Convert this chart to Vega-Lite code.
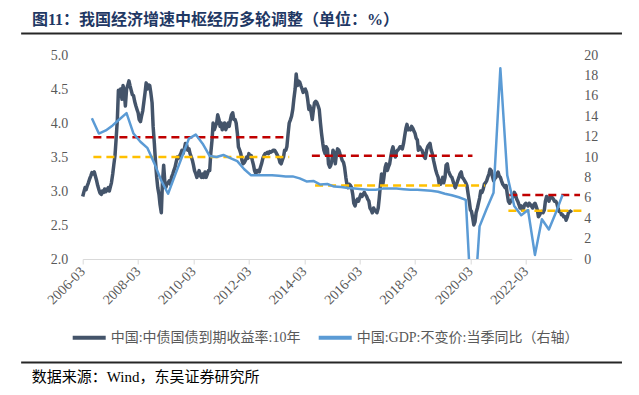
{
"$schema": "https://vega.github.io/schema/vega-lite/v6.json",
"width": 489, "height": 204,
"autosize": {"type": "none"},
"padding": {"left": 82.7, "top": 55, "right": 67.3, "bottom": 136},
"background": "white",
"title": {"text": "图11：我国经济增速中枢经历多轮调整（单位：%）", "anchor": "start", "frame": "group", "dx": -50.7, "dy": 17, "offset": 13.5, "baseline": "middle", "font": "Liberation Serif, Noto Sans CJK SC", "fontSize": 16, "fontWeight": "bold", "color": "#1F3864"},
"config": {"view": {"stroke": null}, "font": "Liberation Serif, Noto Sans CJK SC",
  "legend": {"orient": "none", "legendX": -12, "legendY": 264, "direction": "horizontal", "symbolType": "stroke", "symbolStrokeWidth": 4, "symbolSize": 1089, "labelFont": "Liberation Serif, Noto Sans CJK SC", "labelFontSize": 14, "labelColor": "#595959", "labelLimit": 0, "columnPadding": 10, "labelOffset": 3}},
"datasets": {
"bond": [
{"d":"2006-03-01","v":2.92},{"d":"2006-03-15","v":2.98},{"d":"2006-04-01","v":3.05},{"d":"2006-04-15","v":3.02},{"d":"2006-05-01","v":3.08},{"d":"2006-05-15","v":3.12},{"d":"2006-06-01","v":3.18},{"d":"2006-06-15","v":3.22},{"d":"2006-07-01","v":3.27},{"d":"2006-07-15","v":3.25},{"d":"2006-08-01","v":3.28},{"d":"2006-08-15","v":3.22},{"d":"2006-09-01","v":3.15},{"d":"2006-09-15","v":3.08},{"d":"2006-10-01","v":3.02},{"d":"2006-10-15","v":2.97},{"d":"2006-11-01","v":2.95},{"d":"2006-11-15","v":3.0},{"d":"2006-12-01","v":2.98},{"d":"2006-12-15","v":3.03},
{"d":"2007-01-01","v":2.99},{"d":"2007-01-15","v":3.02},{"d":"2007-02-01","v":3.05},{"d":"2007-02-15","v":3.0},{"d":"2007-03-01","v":3.06},{"d":"2007-03-15","v":3.12},{"d":"2007-04-01","v":3.25},{"d":"2007-04-15","v":3.38},{"d":"2007-05-01","v":3.52},{"d":"2007-05-15","v":3.75},{"d":"2007-06-01","v":4.05},{"d":"2007-06-15","v":4.48},{"d":"2007-07-01","v":4.42},{"d":"2007-07-15","v":4.5},{"d":"2007-08-01","v":4.35},{"d":"2007-08-15","v":4.55},{"d":"2007-09-01","v":4.45},{"d":"2007-09-15","v":4.25},{"d":"2007-10-01","v":4.5},{"d":"2007-10-15","v":4.55},{"d":"2007-11-01","v":4.62},{"d":"2007-11-15","v":4.55},{"d":"2007-12-01","v":4.48},{"d":"2007-12-15","v":4.42},
{"d":"2008-01-01","v":4.4},{"d":"2008-01-15","v":4.32},{"d":"2008-02-01","v":4.25},{"d":"2008-02-15","v":4.2},{"d":"2008-03-01","v":4.15},{"d":"2008-03-15","v":4.05},{"d":"2008-04-01","v":4.02},{"d":"2008-04-15","v":4.1},{"d":"2008-05-01","v":4.18},{"d":"2008-05-15","v":4.3},{"d":"2008-06-01","v":4.45},{"d":"2008-06-15","v":4.59},{"d":"2008-07-01","v":4.5},{"d":"2008-07-15","v":4.56},{"d":"2008-08-01","v":4.55},{"d":"2008-08-15","v":4.45},{"d":"2008-09-01","v":4.3},{"d":"2008-09-15","v":3.95},{"d":"2008-10-01","v":3.7},{"d":"2008-10-15","v":3.45},{"d":"2008-11-01","v":3.2},{"d":"2008-11-15","v":3.05},{"d":"2008-12-01","v":2.95},{"d":"2008-12-15","v":2.8},
{"d":"2009-01-01","v":2.68},{"d":"2009-01-15","v":3.1},{"d":"2009-02-01","v":3.38},{"d":"2009-02-15","v":3.15},{"d":"2009-03-01","v":3.05},{"d":"2009-03-15","v":3.1},{"d":"2009-04-01","v":3.12},{"d":"2009-04-15","v":3.15},{"d":"2009-05-01","v":3.1},{"d":"2009-05-15","v":3.2},{"d":"2009-06-01","v":3.25},{"d":"2009-06-15","v":3.3},{"d":"2009-07-01","v":3.35},{"d":"2009-07-15","v":3.42},{"d":"2009-08-01","v":3.5},{"d":"2009-08-15","v":3.48},{"d":"2009-09-01","v":3.52},{"d":"2009-09-15","v":3.55},{"d":"2009-10-01","v":3.6},{"d":"2009-10-15","v":3.55},{"d":"2009-11-01","v":3.62},{"d":"2009-11-15","v":3.7},{"d":"2009-12-01","v":3.68},{"d":"2009-12-15","v":3.6},
{"d":"2010-01-01","v":3.62},{"d":"2010-01-15","v":3.55},{"d":"2010-02-01","v":3.5},{"d":"2010-02-15","v":3.45},{"d":"2010-03-01","v":3.38},{"d":"2010-03-15","v":3.3},{"d":"2010-04-01","v":3.25},{"d":"2010-04-15","v":3.2},{"d":"2010-05-01","v":3.25},{"d":"2010-05-15","v":3.3},{"d":"2010-06-01","v":3.22},{"d":"2010-06-15","v":3.2},{"d":"2010-07-01","v":3.25},{"d":"2010-07-15","v":3.2},{"d":"2010-08-01","v":3.28},{"d":"2010-08-15","v":3.2},{"d":"2010-09-01","v":3.25},{"d":"2010-09-15","v":3.3},{"d":"2010-10-01","v":3.3},{"d":"2010-10-15","v":3.55},{"d":"2010-11-01","v":3.75},{"d":"2010-11-15","v":4.0},{"d":"2010-12-01","v":3.9},{"d":"2010-12-15","v":3.95},
{"d":"2011-01-01","v":4.0},{"d":"2011-01-15","v":4.12},{"d":"2011-02-01","v":4.05},{"d":"2011-02-15","v":3.95},{"d":"2011-03-01","v":4.0},{"d":"2011-03-15","v":3.9},{"d":"2011-04-01","v":3.95},{"d":"2011-04-15","v":4.0},{"d":"2011-05-01","v":3.9},{"d":"2011-05-15","v":3.95},{"d":"2011-06-01","v":4.0},{"d":"2011-06-15","v":3.95},{"d":"2011-07-01","v":4.05},{"d":"2011-07-15","v":4.12},{"d":"2011-08-01","v":4.15},{"d":"2011-08-15","v":4.05},{"d":"2011-09-01","v":4.05},{"d":"2011-09-15","v":4.0},{"d":"2011-10-01","v":3.85},{"d":"2011-10-15","v":3.65},{"d":"2011-11-01","v":3.6},{"d":"2011-11-15","v":3.55},{"d":"2011-12-01","v":3.45},{"d":"2011-12-15","v":3.4},
{"d":"2012-01-01","v":3.42},{"d":"2012-01-15","v":3.45},{"d":"2012-02-01","v":3.5},{"d":"2012-02-15","v":3.48},{"d":"2012-03-01","v":3.55},{"d":"2012-03-15","v":3.5},{"d":"2012-04-01","v":3.52},{"d":"2012-04-15","v":3.45},{"d":"2012-05-01","v":3.38},{"d":"2012-05-15","v":3.3},{"d":"2012-06-01","v":3.25},{"d":"2012-06-15","v":3.3},{"d":"2012-07-01","v":3.3},{"d":"2012-07-15","v":3.28},{"d":"2012-08-01","v":3.35},{"d":"2012-08-15","v":3.4},{"d":"2012-09-01","v":3.48},{"d":"2012-09-15","v":3.52},{"d":"2012-10-01","v":3.55},{"d":"2012-10-15","v":3.55},{"d":"2012-11-01","v":3.57},{"d":"2012-11-15","v":3.55},{"d":"2012-12-01","v":3.58},{"d":"2012-12-15","v":3.57},
{"d":"2013-01-01","v":3.58},{"d":"2013-01-15","v":3.6},{"d":"2013-02-01","v":3.6},{"d":"2013-02-15","v":3.58},{"d":"2013-03-01","v":3.55},{"d":"2013-03-15","v":3.52},{"d":"2013-04-01","v":3.48},{"d":"2013-04-15","v":3.42},{"d":"2013-05-01","v":3.4},{"d":"2013-05-15","v":3.45},{"d":"2013-06-01","v":3.5},{"d":"2013-06-15","v":3.6},{"d":"2013-07-01","v":3.6},{"d":"2013-07-15","v":3.65},{"d":"2013-08-01","v":3.85},{"d":"2013-08-15","v":4.0},{"d":"2013-09-01","v":4.05},{"d":"2013-09-15","v":4.1},{"d":"2013-10-01","v":4.2},{"d":"2013-10-15","v":4.35},{"d":"2013-11-01","v":4.5},{"d":"2013-11-15","v":4.72},{"d":"2013-12-01","v":4.55},{"d":"2013-12-15","v":4.62},
{"d":"2014-01-01","v":4.6},{"d":"2014-01-15","v":4.55},{"d":"2014-02-01","v":4.5},{"d":"2014-02-15","v":4.45},{"d":"2014-03-01","v":4.48},{"d":"2014-03-15","v":4.5},{"d":"2014-04-01","v":4.45},{"d":"2014-04-15","v":4.35},{"d":"2014-05-01","v":4.2},{"d":"2014-05-15","v":4.25},{"d":"2014-06-01","v":4.15},{"d":"2014-06-15","v":4.05},{"d":"2014-07-01","v":4.2},{"d":"2014-07-15","v":4.3},{"d":"2014-08-01","v":4.32},{"d":"2014-08-15","v":4.3},{"d":"2014-09-01","v":4.25},{"d":"2014-09-15","v":4.2},{"d":"2014-10-01","v":4.0},{"d":"2014-10-15","v":3.85},{"d":"2014-11-01","v":3.7},{"d":"2014-11-15","v":3.6},{"d":"2014-12-01","v":3.55},{"d":"2014-12-15","v":3.65},
{"d":"2015-01-01","v":3.62},{"d":"2015-01-15","v":3.4},{"d":"2015-02-01","v":3.35},{"d":"2015-02-15","v":3.38},{"d":"2015-03-01","v":3.45},{"d":"2015-03-15","v":3.6},{"d":"2015-04-01","v":3.55},{"d":"2015-04-15","v":3.4},{"d":"2015-05-01","v":3.55},{"d":"2015-05-15","v":3.62},{"d":"2015-06-01","v":3.6},{"d":"2015-06-15","v":3.55},{"d":"2015-07-01","v":3.5},{"d":"2015-07-15","v":3.45},{"d":"2015-08-01","v":3.42},{"d":"2015-08-15","v":3.35},{"d":"2015-09-01","v":3.2},{"d":"2015-09-15","v":3.1},{"d":"2015-10-01","v":3.05},{"d":"2015-10-15","v":3.1},{"d":"2015-11-01","v":3.08},{"d":"2015-11-15","v":3.05},{"d":"2015-12-01","v":2.95},{"d":"2015-12-15","v":2.82},
{"d":"2016-01-01","v":2.78},{"d":"2016-01-15","v":2.85},{"d":"2016-02-01","v":2.88},{"d":"2016-02-15","v":2.85},{"d":"2016-03-01","v":2.9},{"d":"2016-03-15","v":2.95},{"d":"2016-04-01","v":2.92},{"d":"2016-04-15","v":2.95},{"d":"2016-05-01","v":2.98},{"d":"2016-05-15","v":2.95},{"d":"2016-06-01","v":2.92},{"d":"2016-06-15","v":2.88},{"d":"2016-07-01","v":2.85},{"d":"2016-07-15","v":2.75},{"d":"2016-08-01","v":2.72},{"d":"2016-08-15","v":2.68},{"d":"2016-09-01","v":2.75},{"d":"2016-09-15","v":2.72},{"d":"2016-10-01","v":2.7},{"d":"2016-10-15","v":2.68},{"d":"2016-11-01","v":2.75},{"d":"2016-11-15","v":2.9},{"d":"2016-12-01","v":3.1},{"d":"2016-12-15","v":3.25},
{"d":"2017-01-01","v":3.1},{"d":"2017-01-15","v":3.2},{"d":"2017-02-01","v":3.35},{"d":"2017-02-15","v":3.4},{"d":"2017-03-01","v":3.3},{"d":"2017-03-15","v":3.35},{"d":"2017-04-01","v":3.4},{"d":"2017-04-15","v":3.5},{"d":"2017-05-01","v":3.6},{"d":"2017-05-15","v":3.65},{"d":"2017-06-01","v":3.55},{"d":"2017-06-15","v":3.5},{"d":"2017-07-01","v":3.58},{"d":"2017-07-15","v":3.6},{"d":"2017-08-01","v":3.62},{"d":"2017-08-15","v":3.65},{"d":"2017-09-01","v":3.65},{"d":"2017-09-15","v":3.62},{"d":"2017-10-01","v":3.7},{"d":"2017-10-15","v":3.8},{"d":"2017-11-01","v":3.92},{"d":"2017-11-15","v":3.98},{"d":"2017-12-01","v":3.9},{"d":"2017-12-15","v":3.92},
{"d":"2018-01-01","v":3.9},{"d":"2018-01-15","v":3.95},{"d":"2018-02-01","v":3.92},{"d":"2018-02-15","v":3.88},{"d":"2018-03-01","v":3.85},{"d":"2018-03-15","v":3.78},{"d":"2018-04-01","v":3.75},{"d":"2018-04-15","v":3.6},{"d":"2018-05-01","v":3.65},{"d":"2018-05-15","v":3.62},{"d":"2018-06-01","v":3.6},{"d":"2018-06-15","v":3.55},{"d":"2018-07-01","v":3.5},{"d":"2018-07-15","v":3.48},{"d":"2018-08-01","v":3.6},{"d":"2018-08-15","v":3.65},{"d":"2018-09-01","v":3.68},{"d":"2018-09-15","v":3.7},{"d":"2018-10-01","v":3.6},{"d":"2018-10-15","v":3.55},{"d":"2018-11-01","v":3.45},{"d":"2018-11-15","v":3.38},{"d":"2018-12-01","v":3.3},{"d":"2018-12-15","v":3.25},
{"d":"2019-01-01","v":3.2},{"d":"2019-01-15","v":3.1},{"d":"2019-02-01","v":3.1},{"d":"2019-02-15","v":3.15},{"d":"2019-03-01","v":3.2},{"d":"2019-03-15","v":3.12},{"d":"2019-04-01","v":3.2},{"d":"2019-04-15","v":3.38},{"d":"2019-05-01","v":3.4},{"d":"2019-05-15","v":3.3},{"d":"2019-06-01","v":3.25},{"d":"2019-06-15","v":3.22},{"d":"2019-07-01","v":3.2},{"d":"2019-07-15","v":3.15},{"d":"2019-08-01","v":3.08},{"d":"2019-08-15","v":3.05},{"d":"2019-09-01","v":3.1},{"d":"2019-09-15","v":3.15},{"d":"2019-10-01","v":3.2},{"d":"2019-10-15","v":3.25},{"d":"2019-11-01","v":3.28},{"d":"2019-11-15","v":3.2},{"d":"2019-12-01","v":3.18},{"d":"2019-12-15","v":3.15},
{"d":"2020-01-01","v":3.12},{"d":"2020-01-15","v":3.08},{"d":"2020-02-01","v":2.95},{"d":"2020-02-15","v":2.85},{"d":"2020-03-01","v":2.72},{"d":"2020-03-15","v":2.7},{"d":"2020-04-01","v":2.6},{"d":"2020-04-15","v":2.5},{"d":"2020-05-01","v":2.55},{"d":"2020-05-15","v":2.68},{"d":"2020-06-01","v":2.75},{"d":"2020-06-15","v":2.82},{"d":"2020-07-01","v":2.9},{"d":"2020-07-15","v":3.0},{"d":"2020-08-01","v":2.98},{"d":"2020-08-15","v":3.02},{"d":"2020-09-01","v":3.1},{"d":"2020-09-15","v":3.12},{"d":"2020-10-01","v":3.15},{"d":"2020-10-15","v":3.2},{"d":"2020-11-01","v":3.25},{"d":"2020-11-15","v":3.32},{"d":"2020-12-01","v":3.3},{"d":"2020-12-15","v":3.22},
{"d":"2021-01-01","v":3.15},{"d":"2021-01-15","v":3.18},{"d":"2021-02-01","v":3.2},{"d":"2021-02-15","v":3.25},{"d":"2021-03-01","v":3.28},{"d":"2021-03-15","v":3.22},{"d":"2021-04-01","v":3.2},{"d":"2021-04-15","v":3.15},{"d":"2021-05-01","v":3.1},{"d":"2021-05-15","v":3.08},{"d":"2021-06-01","v":3.05},{"d":"2021-06-15","v":3.08},{"d":"2021-07-01","v":2.95},{"d":"2021-07-15","v":2.85},{"d":"2021-08-01","v":2.82},{"d":"2021-08-15","v":2.85},{"d":"2021-09-01","v":2.88},{"d":"2021-09-15","v":2.92},{"d":"2021-10-01","v":2.98},{"d":"2021-10-15","v":2.95},{"d":"2021-11-01","v":2.88},{"d":"2021-11-15","v":2.85},{"d":"2021-12-01","v":2.8},{"d":"2021-12-15","v":2.75},
{"d":"2022-01-01","v":2.78},{"d":"2022-01-15","v":2.72},{"d":"2022-02-01","v":2.75},{"d":"2022-02-15","v":2.8},{"d":"2022-03-01","v":2.82},{"d":"2022-03-15","v":2.8},{"d":"2022-04-01","v":2.78},{"d":"2022-04-15","v":2.82},{"d":"2022-05-01","v":2.8},{"d":"2022-05-15","v":2.78},{"d":"2022-06-01","v":2.75},{"d":"2022-06-15","v":2.8},{"d":"2022-07-01","v":2.82},{"d":"2022-07-15","v":2.78},{"d":"2022-08-01","v":2.72},{"d":"2022-08-15","v":2.62},{"d":"2022-09-01","v":2.65},{"d":"2022-09-15","v":2.68},{"d":"2022-10-01","v":2.7},{"d":"2022-10-15","v":2.68},{"d":"2022-11-01","v":2.72},{"d":"2022-11-15","v":2.85},{"d":"2022-12-01","v":2.92},{"d":"2022-12-15","v":2.9},
{"d":"2023-01-01","v":2.85},{"d":"2023-01-15","v":2.9},{"d":"2023-02-01","v":2.92},{"d":"2023-02-15","v":2.9},{"d":"2023-03-01","v":2.88},{"d":"2023-03-15","v":2.85},{"d":"2023-04-01","v":2.85},{"d":"2023-04-15","v":2.82},{"d":"2023-05-01","v":2.75},{"d":"2023-05-15","v":2.7},{"d":"2023-06-01","v":2.7},{"d":"2023-06-15","v":2.65},{"d":"2023-07-01","v":2.65},{"d":"2023-07-15","v":2.62},{"d":"2023-08-01","v":2.62},{"d":"2023-08-15","v":2.57},{"d":"2023-09-01","v":2.62},{"d":"2023-09-15","v":2.68},{"d":"2023-10-01","v":2.7},{"d":"2023-10-15","v":2.7},{"d":"2023-10-27","v":2.72}
],
"gdp": [
{"d":"2006-06-30","v":13.8},{"d":"2006-09-30","v":12.3},{"d":"2006-12-31","v":12.6},{"d":"2007-03-31","v":13.1},{"d":"2007-06-30","v":13.7},{"d":"2007-09-30","v":14.3},{"d":"2007-12-31","v":12.3},
{"d":"2008-03-31","v":11.5},{"d":"2008-06-30","v":10.9},{"d":"2008-09-30","v":9.4},{"d":"2008-12-31","v":7.7},{"d":"2009-03-31","v":6.4},{"d":"2009-06-30","v":8.2},{"d":"2009-09-30","v":10.0},{"d":"2009-12-31","v":11.8},
{"d":"2010-03-31","v":12.2},{"d":"2010-06-30","v":11.3},{"d":"2010-09-30","v":10.1},{"d":"2010-12-31","v":10.0},{"d":"2011-03-31","v":10.2},{"d":"2011-06-30","v":9.9},{"d":"2011-09-30","v":9.6},{"d":"2011-12-31","v":8.8},
{"d":"2012-03-31","v":8.2},{"d":"2012-06-30","v":8.2},{"d":"2012-09-30","v":8.2},{"d":"2012-12-31","v":8.2},{"d":"2013-03-31","v":8.15},{"d":"2013-06-30","v":8.1},{"d":"2013-09-30","v":8.1},{"d":"2013-12-31","v":7.9},
{"d":"2014-03-31","v":7.6},{"d":"2014-06-30","v":7.65},{"d":"2014-09-30","v":7.3},{"d":"2014-12-31","v":7.35},{"d":"2015-03-31","v":7.1},{"d":"2015-06-30","v":7.05},{"d":"2015-09-30","v":6.95},{"d":"2015-12-31","v":6.9},
{"d":"2016-03-31","v":6.85},{"d":"2016-06-30","v":6.8},{"d":"2016-09-30","v":6.8},{"d":"2016-12-31","v":6.9},{"d":"2017-03-31","v":6.9},{"d":"2017-06-30","v":6.9},{"d":"2017-09-30","v":6.85},{"d":"2017-12-31","v":6.8},
{"d":"2018-03-31","v":6.8},{"d":"2018-06-30","v":6.75},{"d":"2018-09-30","v":6.7},{"d":"2018-12-31","v":6.6},{"d":"2019-03-31","v":6.4},{"d":"2019-06-30","v":6.25},{"d":"2019-09-30","v":6.05},{"d":"2019-12-31","v":5.8},
{"d":"2020-03-31","v":-6.8},{"d":"2020-06-30","v":3.2},{"d":"2020-09-30","v":4.9},{"d":"2020-12-31","v":6.5},{"d":"2021-03-31","v":18.7},{"d":"2021-06-30","v":8.2},{"d":"2021-09-30","v":5.2},{"d":"2021-12-31","v":4.3},
{"d":"2022-03-31","v":4.8},{"d":"2022-06-30","v":0.4},{"d":"2022-09-30","v":3.9},{"d":"2022-12-31","v":2.9},{"d":"2023-03-31","v":4.5},{"d":"2023-06-30","v":6.3}
],
"levels": [
{"grp":"red","start":"2006-07-20","end":"2013-08-01","level":3.79},
{"grp":"yellow","start":"2006-07-20","end":"2013-08-15","level":3.5},
{"grp":"red","start":"2014-06-10","end":"2020-03-28","level":3.52},
{"grp":"yellow","start":"2014-07-22","end":"2020-09-10","level":3.08},
{"grp":"red","start":"2021-07-27","end":"2024-02-15","level":2.94},
{"grp":"yellow","start":"2021-07-15","end":"2024-03-27","level":2.71}
],
"frame": [
{"from":"2003-12-10","to":"2025-08-21","y":5.316},
{"from":"2003-12-10","to":"2025-08-21","y":0.478}
],
"note": [
{"d":"2004-04-28","y":0.265,"t":"数据来源：Wind，东吴证券研究所"}
]
},
"layer": [
  {"data": {"name": "frame"},
   "mark": {"type": "rule", "color": "#262626", "strokeWidth": 2},
   "encoding": {
    "x": {"field": "from", "type": "temporal", "scale": {"domain": ["2006-03-01", "2023-10-28"]}, "axis": null},
    "x2": {"field": "to"},
    "y": {"field": "y", "type": "quantitative", "scale": {"domain": [2, 5]}, "axis": null}}},
  {"data": {"name": "note"},
   "mark": {"type": "text", "align": "left", "baseline": "middle", "fontSize": 15, "color": "#000000", "font": "Liberation Serif, Noto Sans CJK SC"},
   "encoding": {
    "x": {"field": "d", "type": "temporal", "scale": {"domain": ["2006-03-01", "2023-10-28"]}, "axis": null},
    "y": {"field": "y", "type": "quantitative", "scale": {"domain": [2, 5]}, "axis": null},
    "text": {"field": "t"}}},
  {"data": {"name": "bond"},
   "mark": {"type": "line", "strokeWidth": 3.5, "strokeJoin": "round"},
   "encoding": {
    "x": {"field": "d", "type": "temporal", "scale": {"domain": ["2006-03-01", "2023-10-28"]},
      "axis": {"title": null, "grid": false, "format": "%Y-%m", "values": ["2006-03-01", "2008-03-01", "2010-03-01", "2012-03-01", "2014-03-01", "2016-03-01", "2018-03-01", "2020-03-01", "2022-03-01"],
        "labelAngle": -45, "labelAlign": "right", "labelBaseline": "middle", "labelPadding": 5, "labelFont": "Liberation Serif", "labelFontSize": 14, "labelColor": "#595959", "domainColor": "#D9D9D9", "tickColor": "#D9D9D9", "tickSize": 5, "labelOverlap": false, "labelFlush": false}},
    "y": {"field": "v", "type": "quantitative", "scale": {"domain": [2, 5]},
      "axis": {"title": null, "grid": false, "domain": false, "ticks": false, "values": [2, 2.5, 3, 3.5, 4, 4.5, 5], "format": ".1f", "labelPadding": 15, "labelFont": "Liberation Serif", "labelFontSize": 14, "labelColor": "#595959"}},
    "color": {"datum": "中国:中债国债到期收益率:10年", "type": "nominal", "scale": {"domain": ["中国:中债国债到期收益率:10年", "中国:GDP:不变价:当季同比（右轴）"], "range": ["#44546A", "#5B9BD5"]}, "legend": {"title": null}}}},
  {"data": {"name": "levels"},
   "transform": [{"filter": "datum.grp === 'red'"}],
   "mark": {"type": "rule", "color": "#C00000", "strokeWidth": 2.5, "strokeDash": [8, 5]},
   "encoding": {
    "x": {"field": "start", "type": "temporal", "scale": {"domain": ["2006-03-01", "2023-10-28"]}, "axis": null},
    "x2": {"field": "end"},
    "y": {"field": "level", "type": "quantitative", "scale": {"domain": [2, 5]}, "axis": null}}},
  {"data": {"name": "levels"},
   "transform": [{"filter": "datum.grp === 'yellow'"}],
   "mark": {"type": "rule", "color": "#FFC000", "strokeWidth": 2.5, "strokeDash": [8, 5]},
   "encoding": {
    "x": {"field": "start", "type": "temporal", "scale": {"domain": ["2006-03-01", "2023-10-28"]}, "axis": null},
    "x2": {"field": "end"},
    "y": {"field": "level", "type": "quantitative", "scale": {"domain": [2, 5]}, "axis": null}}},
  {"data": {"name": "gdp"},
   "mark": {"type": "line", "strokeWidth": 2.5, "clip": true, "strokeJoin": "round"},
   "encoding": {
    "x": {"field": "d", "type": "temporal", "scale": {"domain": ["2006-03-01", "2023-10-28"]}, "axis": null},
    "y": {"field": "v", "type": "quantitative", "scale": {"domain": [0, 20]},
      "axis": {"orient": "right", "title": null, "grid": false, "domain": false, "ticks": false, "values": [0, 2, 4, 6, 8, 10, 12, 14, 16, 18, 20], "format": "d", "labelPadding": 12, "labelFont": "Liberation Serif", "labelFontSize": 14, "labelColor": "#595959"}},
    "color": {"datum": "中国:GDP:不变价:当季同比（右轴）", "type": "nominal", "scale": {"domain": ["中国:中债国债到期收益率:10年", "中国:GDP:不变价:当季同比（右轴）"], "range": ["#44546A", "#5B9BD5"]}, "legend": {"title": null}}}}
],
"resolve": {"scale": {"x": "independent", "y": "independent"}, "axis": {"x": "independent", "y": "independent"}}
}
